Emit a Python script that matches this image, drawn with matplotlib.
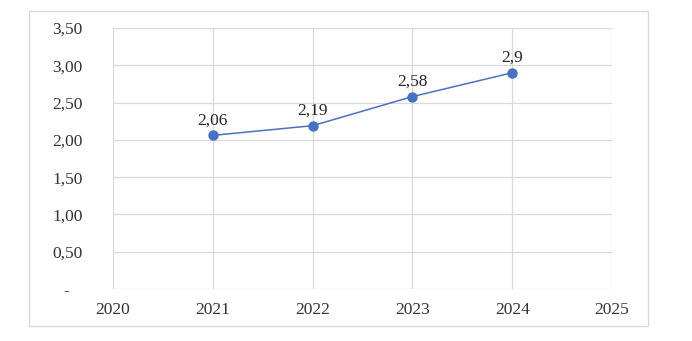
import matplotlib.pyplot as plt
from matplotlib.patches import Rectangle
from matplotlib.ticker import FuncFormatter

years = [2021, 2022, 2023, 2024]
values = [2.06, 2.19, 2.58, 2.9]
labels = ["2,06", "2,19", "2,58", "2,9"]
x_ticks = [2020, 2021, 2022, 2023, 2024, 2025]
y_ticks = [0, 0.5, 1.0, 1.5, 2.0, 2.5, 3.0, 3.5]

plt.rcParams["font.family"] = ["Liberation Serif", "DejaVu Serif"]

fig = plt.figure(figsize=(6.92, 3.41), dpi=100)
ax = fig.add_axes([113 / 692, 1 - 289 / 341, 499 / 692, 261 / 341])

# outer chart border
fig.patches.append(Rectangle((29 / 692, 1 - 326 / 341), 619 / 692, 315 / 341,
                             transform=fig.transFigure, fill=False,
                             edgecolor="#d9d9d9", linewidth=1))

ax.plot(years, values, color="#4a72c0", linewidth=1.1, marker="o",
        markersize=6.5, markerfacecolor="#4472C4", markeredgecolor="#4472C4", zorder=3)

for x, y, t in zip(years, values, labels):
    ax.annotate(t, (x, y), xytext=(0, 5), textcoords="offset points",
                ha="center", va="bottom", fontsize=12.5, color="#262626")

ax.set_xlim(2020, 2025)
ax.set_ylim(0, 3.5)
ax.set_xticks(x_ticks)
ax.set_yticks(y_ticks)

def fmt(v, pos):
    if v == 0:
        return "-   "
    return f"{v:.2f}".replace(".", ",")

ax.yaxis.set_major_formatter(FuncFormatter(fmt))
ax.grid(True, color="#d9d9d9", linewidth=0.9)
ax.set_axisbelow(True)
for s in ax.spines.values():
    s.set_visible(False)
ax.tick_params(length=0, labelsize=12.5, labelcolor="#333333")
ax.tick_params(axis="y", pad=22)
ax.tick_params(axis="x", pad=9)
for lbl in ax.get_yticklabels():
    lbl.set_horizontalalignment("right")

fig.savefig("out.png", dpi=100)
